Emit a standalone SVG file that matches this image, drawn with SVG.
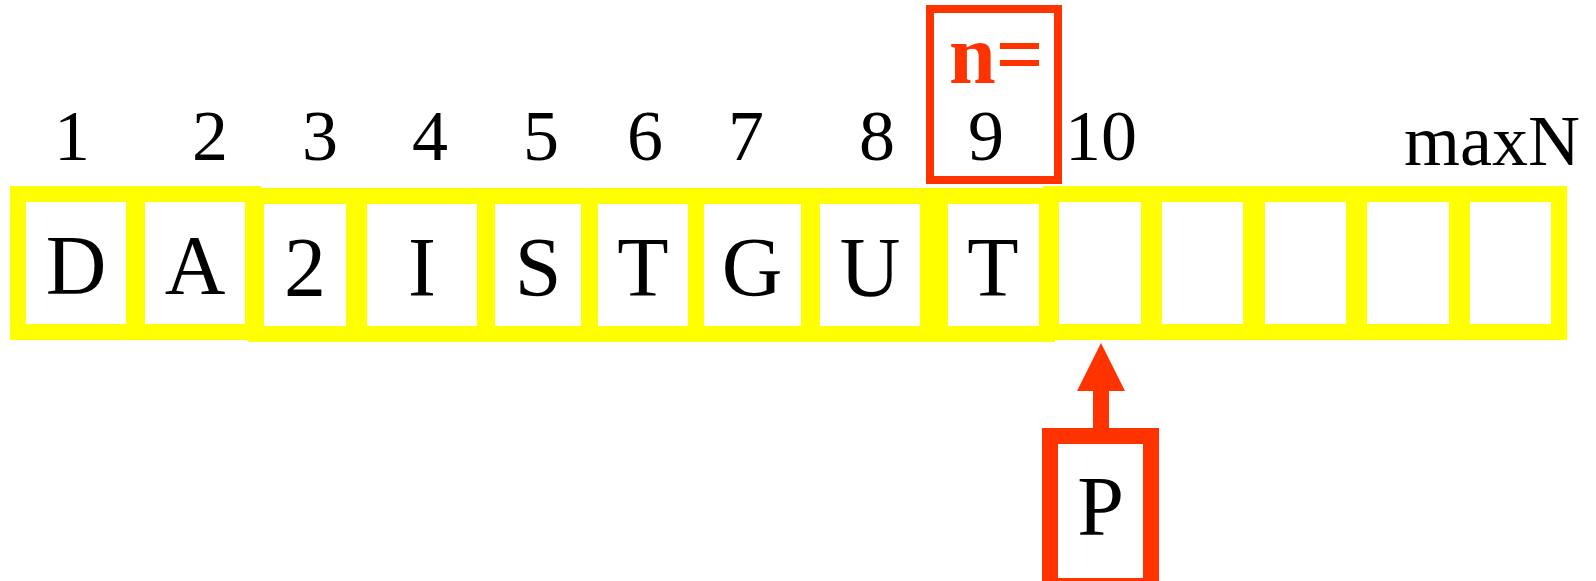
<svg xmlns="http://www.w3.org/2000/svg" width="1596" height="581" viewBox="0 0 1596 581">
<style>
  .cell { fill: #FFFFFF; stroke: #FFFF00; stroke-width: 16; }
  .ch { font-family: "Liberation Serif", "Times New Roman", serif; font-size: 84px; fill: #000000; text-anchor: middle; }
  .idx { font-family: "Liberation Serif", "Times New Roman", serif; font-size: 72px; fill: #000000; text-anchor: middle; }
  .idx-start { font-family: "Liberation Serif", "Times New Roman", serif; font-size: 72px; fill: #000000; text-anchor: start; }
  .red { fill: none; stroke: #FF3300; }
  .nlab { font-family: "Liberation Serif", "Times New Roman", serif; font-size: 84px; font-weight: bold; fill: #FF3300; }
</style>
<defs>
  <marker id="head" viewBox="0 0 48 48" markerWidth="48" markerHeight="48" refX="0" refY="24" orient="auto" markerUnits="userSpaceOnUse">
    <path d="M0,0 L48,24 L0,48 Z" fill="#FF3300"/>
  </marker>
</defs>
<rect x="0" y="0" width="1596" height="581" fill="#FFFFFF"/>

<g id="indices">
  <text class="idx" x="72" y="160">1</text>
  <text class="idx" x="210" y="160">2</text>
  <text class="idx" x="320" y="160">3</text>
  <text class="idx" x="430" y="160">4</text>
  <text class="idx" x="541" y="160">5</text>
  <text class="idx" x="645" y="160">6</text>
  <text class="idx" x="746" y="160">7</text>
  <text class="idx" x="877" y="160">8</text>
  <text class="idx" x="1101" y="160">10</text>
  <text class="idx-start" x="1404" y="165">maxN</text>
</g>

<g id="n-pointer">
  <rect class="red" x="930" y="9" width="128" height="171" stroke-width="8"/>
  <text class="nlab" x="949" y="83">n=</text>
  <text class="idx" x="986" y="160">9</text>
</g>

<g id="cell-1"><rect class="cell" x="18" y="194" width="116" height="138"/><text class="ch" x="76" y="294">D</text></g>
<g id="cell-2"><rect class="cell" x="137" y="194" width="116" height="138"/><text class="ch" x="195" y="294">A</text></g>
<g id="cell-3"><rect class="cell" x="256" y="196" width="98" height="138"/><text class="ch" x="305" y="296">2</text></g>
<g id="cell-4"><rect class="cell" x="359" y="196" width="126" height="138"/><text class="ch" x="422" y="296">I</text></g>
<g id="cell-5"><rect class="cell" x="487" y="196" width="102" height="138"/><text class="ch" x="538" y="296">S</text></g>
<g id="cell-6"><rect class="cell" x="590" y="196" width="106" height="138"/><text class="ch" x="643" y="296">T</text></g>
<g id="cell-7"><rect class="cell" x="696" y="196" width="113" height="138"/><text class="ch" x="752" y="296">G</text></g>
<g id="cell-8"><rect class="cell" x="812" y="196" width="116" height="138"/><text class="ch" x="870" y="296">U</text></g>
<g id="cell-9"><rect class="cell" x="940" y="196" width="107" height="138"/><text class="ch" x="993" y="296">T</text></g>
<g id="cell-10"><rect class="cell" x="1051" y="194" width="98" height="138"/></g>
<g id="cell-11"><rect class="cell" x="1154" y="194" width="97" height="138"/></g>
<g id="cell-12"><rect class="cell" x="1257" y="194" width="97" height="138"/></g>
<g id="cell-13"><rect class="cell" x="1359" y="194" width="98" height="138"/></g>
<g id="cell-14"><rect class="cell" x="1462" y="194" width="97" height="138"/></g>

<g id="connectors">
  <line x1="1101" y1="436" x2="1101" y2="391" stroke="#FF3300" stroke-width="16" marker-end="url(#head)"/>
</g>

<g id="node-P">
  <rect x="1050" y="436" width="101" height="150" fill="#FFFFFF" stroke="#FF3300" stroke-width="16"/>
  <text class="ch" x="1100.5" y="535">P</text>
</g>
</svg>
